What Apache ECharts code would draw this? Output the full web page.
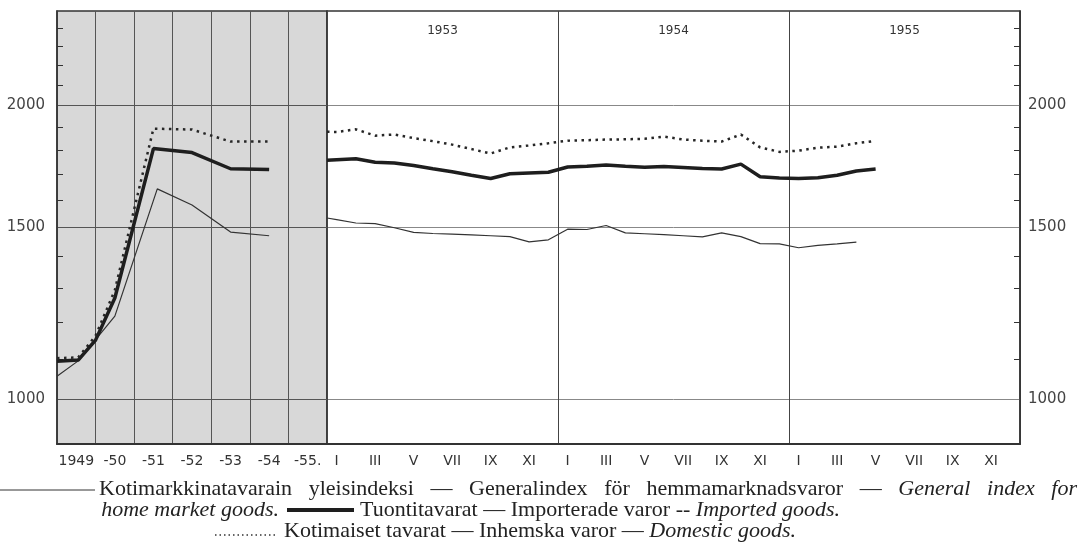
<!DOCTYPE html>
<html>
<head>
<meta charset="utf-8">
<script src="https://cdn.jsdelivr.net/npm/echarts@6/dist/echarts.min.js"></script>
<style>
html, body { margin: 0; padding: 0; background: #fff; }
#chart { width: 1080px; height: 546px; }
</style>
</head>
<body>
<div id="chart"></div>
<script>
var yearLabels = ['1949', '-50', '-51', '-52', '-53', '-54', '-55.'];
var monthLabels = ['I', 'II', 'III', 'IV', 'V', 'VI', 'VII', 'VIII', 'IX', 'X', 'XI', 'XII',
                   'I', 'II', 'III', 'IV', 'V', 'VI', 'VII', 'VIII', 'IX', 'X', 'XI', 'XII',
                   'I', 'II', 'III', 'IV', 'V', 'VI', 'VII', 'VIII', 'IX', 'X', 'XI', 'XII'];
var topYears = ['1953', '1954', '1955'];
var gridValues = [1000, 1500, 2000];
var minorTicks = [1100, 1200, 1300, 1400, 1600, 1700, 1800, 1900, 2100, 2200, 2300, 2400];

// annual part, x = years from the start of 1949
var genYearX = [0, 0.55, 1.5, 2.6, 3.5, 4.5, 5.5];
var genYear = [1056, 1095, 1217, 1643, 1582, 1484, 1471];
var impYearX = [0, 0.55, 1.0, 1.5, 2.5, 3.5, 4.5, 5.5];
var impYear = [1094, 1097, 1150, 1270, 1807, 1790, 1723, 1720];
var domYearX = [0, 0.55, 1.0, 1.5, 2.5, 3.5, 4.5, 5.5];
var domYear = [1102, 1104, 1162, 1294, 1894, 1890, 1837, 1837];

// monthly part from 1953 I; the start value sits on the left edge of 1953
var genStart = 1534, impStart = 1758, domStart = 1880;
var genMonth = [1528, 1516, 1514, 1499, 1483, 1479, 1477, 1474, 1471, 1468, 1450, 1457,
                1494, 1493, 1507, 1481, 1478, 1475, 1471, 1467, 1481, 1468, 1444, 1443,
                1430, 1438, 1443, 1449];
var impMonth = [1760, 1764, 1750, 1747, 1736, 1723, 1711, 1697, 1684, 1703, 1706, 1709,
                1730, 1733, 1738, 1733, 1729, 1732, 1728, 1724, 1722, 1742, 1691, 1686,
                1684, 1687, 1697, 1714, 1722];
var domMonth = [1879, 1891, 1863, 1868, 1852, 1839, 1824, 1805, 1786, 1812, 1820, 1830,
                1841, 1843, 1846, 1847, 1849, 1859, 1846, 1841, 1837, 1868, 1812, 1793,
                1798, 1811, 1815, 1830, 1840];

// legend, first line is justified word by word
var line1Words = [['Kotimarkkinatavarain', false], ['yleisindeksi', false], ['—', false],
                  ['Generalindex', false], ['för', false], ['hemmamarknadsvaror', false], ['—', false],
                  ['General', true], ['index', true], ['for', true]];

function pairs(xs, ys) {
	return ys.map(function(v, i) { return [xs[i], v]; });
}
function monthly(start, vals) {
	var d = [[0, start]];
	vals.forEach(function(v, i) { d.push([i + 0.5, v]); });
	return d;
}

var sans = '"DejaVu Sans", sans-serif';
var serif = '"Liberation Serif", "DejaVu Serif", serif';
var legendSize = 22;
var thin = { color: '#333', width: 1.2 };
var thick = { color: '#1e1e1e', width: 3.5 };
var dots = { color: '#262626', width: 2.5, type: [2.5, 4.5] };

function yAxes(grid, pos) {
	return [
		{
			gridIndex: grid, type: 'log', min: 900, max: 2500, position: pos,
			axisLine: { show: true, onZero: false, lineStyle: { color: '#333', width: 1.5 } },
			axisTick: { show: true, inside: true, length: 6, customValues: minorTicks, lineStyle: { color: '#333' } },
			axisLabel: { show: false },
			splitLine: { show: false }
		},
		{
			gridIndex: grid, type: 'log', min: 900, max: 2500, position: pos,
			axisLine: { show: false, onZero: false },
			axisTick: { show: false, customValues: gridValues },
			axisLabel: {
				customValues: gridValues, margin: pos === 'left' ? 12 : 8,
				fontSize: 15, color: '#444', fontFamily: sans,
				formatter: function(v) { return String(Math.round(v)); }
			},
			splitLine: { show: true, lineStyle: { color: grid === 0 ? '#555' : '#888', width: 1 } }
		}
	];
}

// one legend piece of text; parts = [[text, italic], ...]
function legendText(x, y, parts, align) {
	var rich = {
		n: { fontFamily: serif, fontSize: legendSize, lineHeight: 18, fill: '#222' },
		i: { fontFamily: serif, fontSize: legendSize, lineHeight: 18, fill: '#222', fontStyle: 'italic' }
	};
	return {
		type: 'text', x: x, y: y,
		style: {
			text: parts.map(function(p) { return '{' + (p[1] ? 'i' : 'n') + '|' + p[0] + '}'; }).join(''),
			fontFamily: serif, fontSize: legendSize,
			align: align || 'left',
			verticalAlign: 'middle',
			rich: rich
		}
	};
}

function justify(words, x0, x1, y) {
	var ctx = document.createElement('canvas').getContext('2d');
	var widths = words.map(function(w) {
		ctx.font = (w[1] ? 'italic ' : '') + legendSize + 'px ' + serif;
		return ctx.measureText(w[0]).width;
	});
	var total = widths.reduce(function(a, b) { return a + b; }, 0);
	var gap = (x1 - x0 - total) / (words.length - 1);
	var x = x0, out = [];
	words.forEach(function(w, i) {
		out.push(legendText(x, y, [w]));
		x += widths[i] + gap;
	});
	return out;
}

var myChart = echarts.init(document.getElementById('chart'), null, { renderer: 'canvas' });

var option = {
	animation: false,
	backgroundColor: '#fff',
	grid: [
		{ left: 57, right: 753, top: 11, bottom: 102, show: true, backgroundColor: '#d8d8d8', borderColor: '#333', borderWidth: 1.5 },
		{ left: 327, right: 60, top: 11, bottom: 102, show: true, backgroundColor: '#fff', borderColor: '#333', borderWidth: 1.5 }
	],
	xAxis: [
		{
			gridIndex: 0, type: 'category', data: yearLabels, boundaryGap: true,
			axisLine: { onZero: false, lineStyle: { color: '#333', width: 2 } },
			axisTick: { show: false },
			axisLabel: { interval: 0, color: '#333', fontSize: 14, margin: 10, fontFamily: sans },
			splitLine: { show: true, interval: 0, lineStyle: { color: '#555', width: 1 } }
		},
		{ gridIndex: 0, type: 'value', min: 0, max: 7, show: false, axisLine: { onZero: false } },
		{
			gridIndex: 1, type: 'category', data: monthLabels, boundaryGap: true, position: 'bottom',
			axisLine: { onZero: false, lineStyle: { color: '#333', width: 2 } },
			axisTick: { inside: true, length: 7, interval: 0, lineStyle: { color: '#333' } },
			axisLabel: { interval: 1, color: '#333', fontSize: 14, margin: 10, fontFamily: sans },
			splitLine: { show: false }
		},
		{
			gridIndex: 1, type: 'category', data: topYears, boundaryGap: true, position: 'top',
			axisLine: { show: false, onZero: false },
			axisTick: { show: false },
			axisLabel: { inside: true, margin: 14, fontSize: 12, color: '#333', fontFamily: sans },
			splitLine: { show: true, interval: 0, lineStyle: { color: '#444', width: 1 } }
		},
		{ gridIndex: 1, type: 'value', min: 0, max: 36, show: false, axisLine: { onZero: false } }
	],
	yAxis: yAxes(0, 'left').concat(yAxes(1, 'right')),
	series: [
		{ name: 'general', type: 'line', xAxisIndex: 1, yAxisIndex: 0, data: pairs(genYearX, genYear), symbol: 'none', lineStyle: thin },
		{ name: 'imported', type: 'line', xAxisIndex: 1, yAxisIndex: 0, data: pairs(impYearX, impYear), symbol: 'none', lineStyle: thick },
		{ name: 'domestic', type: 'line', xAxisIndex: 1, yAxisIndex: 0, data: pairs(domYearX, domYear), symbol: 'none', lineStyle: dots },
		{ name: 'general', type: 'line', xAxisIndex: 4, yAxisIndex: 2, data: monthly(genStart, genMonth), symbol: 'none', lineStyle: thin },
		{ name: 'imported', type: 'line', xAxisIndex: 4, yAxisIndex: 2, data: monthly(impStart, impMonth), symbol: 'none', lineStyle: thick },
		{ name: 'domestic', type: 'line', xAxisIndex: 4, yAxisIndex: 2, data: monthly(domStart, domMonth), symbol: 'none', lineStyle: dots }
	],
	graphic: [
		{ type: 'line', shape: { x1: 0, y1: 490, x2: 95, y2: 490 }, style: { stroke: '#333', lineWidth: 1 } }
	].concat(justify(line1Words, 99, 1077, 489)).concat([
		legendText(279, 510, [['home market goods.', true]], 'right'),
		{ type: 'line', shape: { x1: 287, y1: 510, x2: 354, y2: 510 }, style: { stroke: '#1e1e1e', lineWidth: 4 } },
		legendText(360, 510, [['Tuontitavarat — Importerade varor -- ', false], ['Imported goods.', true]]),
		{ type: 'line', shape: { x1: 215, y1: 535, x2: 278, y2: 535 }, style: { stroke: '#333', lineWidth: 1.5, lineDash: [1.5, 3] } },
		legendText(284, 531, [['Kotimaiset tavarat — Inhemska varor — ', false], ['Domestic goods.', true]])
	])
};
myChart.setOption(option);

window.onresize = function() {
	myChart.resize();
};
</script>
</body>
</html>
